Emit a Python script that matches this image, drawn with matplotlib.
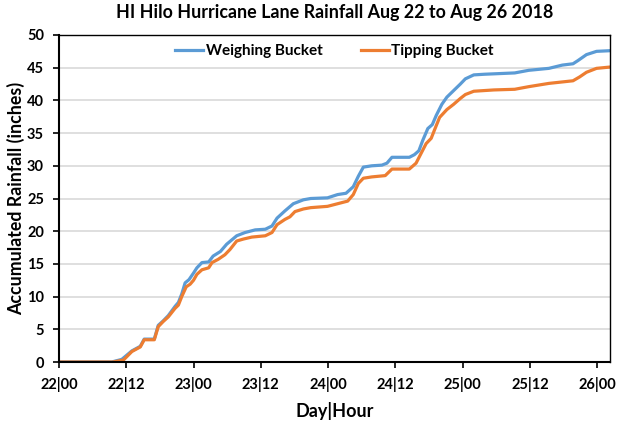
import matplotlib
matplotlib.use("Agg")
import matplotlib.pyplot as plt

plt.rcParams['font.family'] = ['Lato', 'DejaVu Sans']

weigh_hours = [0, 9.4, 11.2, 13.0, 14.5, 15.2, 17.0, 17.7, 18.6, 19.5, 20.7, 21.3, 21.9, 22.5, 23.2,
               24.0, 24.6, 25.5, 26.7, 27.5, 28.8, 29.9, 31.7, 33.2, 35.0, 36.8, 38.0, 38.9, 40.3,
               41.8, 43.6, 44.9, 47.9, 49.7, 51.2, 52.5, 53.4, 54.3, 55.8, 57.6, 58.5, 59.4, 62.5,
               63.4, 64.2, 64.9, 65.8, 66.6, 67.3, 68.3, 69.2, 70.4, 71.6, 72.5, 74.0, 75.9, 81.3,
               83.8, 87.4, 89.8, 91.7, 92.6, 94.1, 95.9, 98.3]
weigh_vals = [0, 0, 0.4, 1.7, 2.4, 3.5, 3.5, 5.6, 6.3, 7.1, 8.5, 9.1, 10.4, 12.1, 12.6,
              13.6, 14.4, 15.2, 15.3, 16.2, 16.9, 18.0, 19.3, 19.8, 20.2, 20.3, 20.8, 22.0, 23.1,
              24.2, 24.8, 25.0, 25.1, 25.6, 25.8, 26.8, 28.4, 29.8, 30.0, 30.1, 30.4, 31.3, 31.3,
              31.7, 32.3, 33.9, 35.7, 36.3, 37.7, 39.4, 40.5, 41.5, 42.5, 43.3, 43.9, 44.0, 44.2,
              44.6, 44.9, 45.4, 45.6, 46.1, 47.0, 47.5, 47.6]

tip_hours = [0, 9.6, 11.5, 13.0, 14.5, 15.2, 17.0, 17.7, 18.6, 19.5, 20.7, 21.3, 21.9, 22.7, 23.4,
             24.0, 24.6, 25.5, 26.7, 27.3, 28.4, 29.6, 30.5, 31.7, 32.9, 34.4, 35.6, 36.8, 38.0,
             38.9, 40.3, 41.2, 42.1, 43.6, 44.9, 47.9, 49.7, 51.5, 52.5, 53.4, 54.3, 55.8, 58.2,
             59.4, 62.5, 63.7, 64.6, 65.5, 66.4, 67.0, 67.9, 69.2, 70.4, 71.6, 72.5, 74.0, 77.6,
             81.3, 83.8, 87.4, 91.7, 92.9, 94.1, 95.9, 98.3]
tip_vals = [0, 0, 0.3, 1.6, 2.3, 3.4, 3.4, 5.4, 6.2, 6.9, 8.2, 8.7, 10.0, 11.5, 11.9,
            12.5, 13.4, 14.1, 14.4, 15.2, 15.7, 16.4, 17.2, 18.5, 18.8, 19.1, 19.2, 19.3, 19.8,
            21.0, 21.8, 22.2, 23.0, 23.4, 23.6, 23.8, 24.2, 24.6, 25.6, 27.3, 28.1, 28.3, 28.5,
            29.5, 29.5, 30.4, 31.9, 33.4, 34.2, 35.5, 37.4, 38.6, 39.4, 40.3, 40.9, 41.4, 41.6,
            41.7, 42.1, 42.6, 43.0, 43.6, 44.3, 44.9, 45.1]

tick_hours = [0, 12, 24, 36, 48, 60, 72, 84, 96]
tick_labels = ["22|00", "22|12", "23|00", "23|12", "24|00", "24|12", "25|00", "25|12", "26|00"]
y_ticks = [0, 5, 10, 15, 20, 25, 30, 35, 40, 45, 50]

fig = plt.figure(figsize=(6.2, 4.22), dpi=100)
ax = fig.add_axes([59/620, 1-362/422, (610-59)/620, (362-35)/422])

ax.plot(weigh_hours, weigh_vals, color='#5B9BD5', lw=2.3, label='Weighing Bucket', solid_joinstyle='round')
ax.plot(tip_hours, tip_vals, color='#ED7D31', lw=2.3, label='Tipping Bucket', solid_joinstyle='round')

ax.set_xlim(0, 98.3)
ax.set_ylim(0, 50)
ax.set_xticks(tick_hours)
ax.set_xticklabels(tick_labels)
ax.set_yticks(y_ticks)
ax.grid(axis='y', color='#D9D9D9', lw=1.2)
ax.set_axisbelow(True)
for s in ax.spines.values():
    s.set_color('black')
    s.set_linewidth(1.0)
ax.spines['left'].set_linewidth(1.5)
ax.spines['bottom'].set_linewidth(1.5)
ax.tick_params(axis='both', direction='out', length=4.3, width=1.2, labelsize=10.5, pad=6.5)
for lab in ax.get_xticklabels() + ax.get_yticklabels():
    lab.set_fontweight('bold')

ax.set_xlabel('Day|Hour', fontsize=13, fontweight='bold', labelpad=7)
ax.set_ylabel('Accumulated Rainfall (inches)', fontsize=12.8, fontweight='bold', labelpad=1.5)
ax.set_title('HI Hilo Hurricane Lane Rainfall Aug 22 to Aug 26 2018', fontsize=12.9,
             fontweight='bold', pad=12.2)

leg = ax.legend(loc='upper center', bbox_to_anchor=(0.5, 1.0), ncol=2, frameon=False,
                prop={'weight': 'bold', 'size': 11}, handlelength=1.85, columnspacing=2.5,
                handletextpad=0.15, borderaxespad=0.2)

fig.savefig('out.png', dpi=100)
